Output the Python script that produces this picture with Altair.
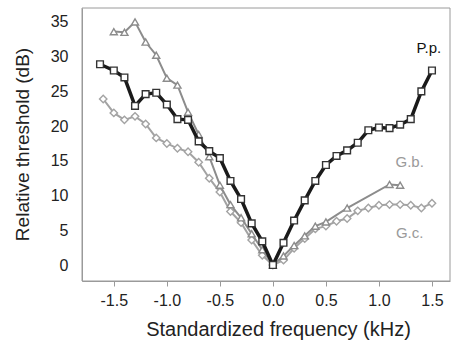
import altair as alt
import pandas as pd

# Standardized frequency (kHz) and relative threshold (dB) per species
pp_freq = [-1.63, -1.5, -1.4, -1.3, -1.2, -1.1, -1.0, -0.9, -0.8, -0.7, -0.6, -0.5,
           -0.4, -0.3, -0.2, -0.1, 0.0, 0.1, 0.2, 0.3, 0.4, 0.5, 0.6, 0.7, 0.8,
           0.9, 1.0, 1.1, 1.2, 1.3, 1.4, 1.5]
pp_thr = [28.9, 28.0, 27.0, 22.9, 24.6, 24.8, 23.1, 21.0, 20.9, 17.8, 16.4, 15.4,
          12.1, 9.5, 6.0, 3.4, 0.0, 3.2, 6.4, 9.3, 12.1, 14.4, 15.7, 16.5, 17.6,
          19.4, 19.8, 19.7, 20.2, 21.0, 25.0, 28.0]

gb_freq = [-1.5, -1.4, -1.3, -1.2, -1.1, -1.0, -0.9, -0.8, -0.7, -0.6, -0.5, -0.4,
           -0.3, -0.2, -0.1, 0.0, 0.1, 0.2, 0.3, 0.4, 0.5, 0.7, 1.1, 1.2]
gb_thr = [33.6, 33.5, 35.0, 32.1, 30.2, 26.9, 25.9, 22.0, 18.8, 15.6, 11.5, 8.7,
          6.8, 4.5, 2.2, 0.0, 1.3, 2.8, 4.2, 5.6, 6.2, 8.2, 11.6, 11.5]

gc_freq = [-1.6, -1.5, -1.4, -1.3, -1.2, -1.1, -1.0, -0.9, -0.8, -0.7, -0.6, -0.5,
           -0.4, -0.3, -0.2, -0.1, 0.0, 0.1, 0.2, 0.3, 0.4, 0.5, 0.6, 0.7, 0.8,
           0.9, 1.0, 1.1, 1.2, 1.3, 1.4, 1.5]
gc_thr = [23.9, 21.9, 20.9, 21.4, 20.3, 18.3, 17.5, 16.8, 16.3, 14.8, 12.5, 10.5,
          7.7, 6.1, 3.6, 1.4, 0.0, 0.7, 2.4, 3.8, 5.2, 5.6, 6.3, 6.7, 7.8,
          8.2, 8.6, 8.7, 8.7, 8.6, 8.2, 8.9]

# Species names written next to their curves
label_text = ["P.p.", "G.b.", "G.c."]
label_freq = [1.47, 1.29, 1.29]
label_thr = [31.3, 14.8, 4.6]
label_color = ["#111111", "#9a9a9a", "#9a9a9a"]

FONT = "Liberation Sans"
W, H = 368, 273

x_scale = alt.Scale(domain=[-1.8, 1.67], nice=False, zero=False)
y_scale = alt.Scale(domain=[-2.3, 37], nice=False, zero=False)

x_axis = alt.Axis(
    title="Standardized frequency (kHz)",
    values=[-1.5, -1.0, -0.5, 0.0, 0.5, 1.0, 1.5],
    labelExpr="datum.value < 0 ? '-' + format(-datum.value, '.1f') : format(datum.value, '.1f')",
    grid=False, tickSize=5, tickColor="#9a9a9a", domainColor="#9a9a9a",
    labelOverlap=False,
    labelFont=FONT, labelFontSize=16, labelColor="#222222", labelPadding=6,
    titleFont=FONT, titleFontSize=20, titleFontWeight="normal", titleColor="#222222",
    titleX=196, titleY=48, titleBaseline="middle",
)
y_axis = alt.Axis(
    title="Relative threshold (dB)",
    values=[0, 5, 10, 15, 20, 25, 30, 35],
    grid=False, tickSize=0, domainColor="#9a9a9a",
    labelOverlap=False,
    labelFont=FONT, labelFontSize=16, labelColor="#222222", labelPadding=14,
    titleFont=FONT, titleFontSize=19, titleFontWeight="normal", titleColor="#222222",
    titleX=-60, titleY=136, titleBaseline="middle", titleAngle=-90,
)

x_enc = alt.X("f:Q", scale=x_scale, axis=x_axis)
y_enc = alt.Y("t:Q", scale=y_scale, axis=y_axis)


def series(freq, thr, line_color, line_width, shape, point_color, size):
    df = pd.DataFrame({"f": freq, "t": thr})
    base = alt.Chart(df).encode(x=x_enc, y=y_enc)
    line = base.mark_line(color=line_color, strokeWidth=line_width)
    pts = base.mark_point(shape=shape, filled=True, fill="white", stroke=point_color,
                          strokeWidth=1.4, size=size, opacity=1)
    return line + pts


# plot-area border
frame = alt.Chart(pd.DataFrame({"k": [0]})).mark_rect(
    fill=None, stroke="#9a9a9a", strokeWidth=1
).encode(x=alt.value(0), x2=alt.value(W), y=alt.value(0), y2=alt.value(H))

gc = series(gc_freq, gc_thr, "#a3a3a3", 2, "diamond", "#a3a3a3", 55)
gb = series(gb_freq, gb_thr, "#8c8c8c", 2, "triangle-up", "#8c8c8c", 50)
pp = series(pp_freq, pp_thr, "#1a1a1a", 3.5, "square", "#333333", 45)

labels_df = pd.DataFrame({"f": label_freq, "t": label_thr, "name": label_text,
                          "col": label_color})
labels = alt.Chart(labels_df).mark_text(font=FONT, fontSize=15, align="center",
                                        baseline="middle").encode(
    x=x_enc,
    y=y_enc,
    text="name:N",
    color=alt.Color("col:N", scale=None),
)

chart = (frame + gc + gb + pp + labels).properties(
    width=W, height=H,
    background="white",
    autosize=alt.AutoSizeParams(type="none"),
    padding={"left": 82, "top": 8, "right": 7, "bottom": 67},
).configure_view(stroke=None)

chart.save("out.html", embed_options={"renderer": "svg", "actions": False})
